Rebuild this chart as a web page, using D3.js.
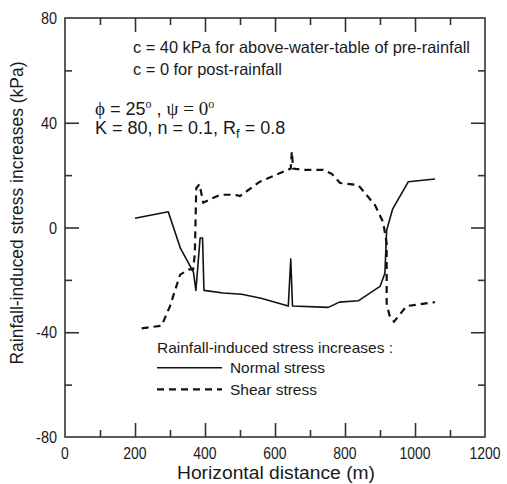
<!DOCTYPE html>
<html>
<head>
<meta charset="utf-8">
<script src="https://cdn.jsdelivr.net/npm/d3@7/dist/d3.min.js"></script>
<style>
html,body{margin:0;padding:0;background:#fff;}
svg{display:block;}
text{font-family:"Liberation Sans Narrow","Arial Narrow","Liberation Sans",Arial,sans-serif;fill:#1a1a1a;}
</style>
</head>
<body>
<script>
// ---- data ----
const xTickValues = [0, 200, 400, 600, 800, 1000, 1200];
const yTickValues = [-80, -40, 0, 40, 80];
const normalX = [200, 295, 330, 367, 374, 386, 393, 397, 452, 505, 560, 638, 645, 650, 752, 784, 838, 900, 914, 919, 936, 981, 1057];
const normalY = [3.5, 6, -8, -17, -24, -4, -4, -24, -25, -25.5, -27, -30, -12, -30, -30.5, -28.5, -28, -22.5, -17.5, -1, 7, 17.5, 18.5];
const shearX = [219, 276, 300, 329, 355, 366, 371, 375, 384, 388, 395, 443, 486, 500, 557, 645, 648, 652, 681, 738, 762, 786, 838, 886, 909, 919, 919, 927, 940, 976, 1005, 1057];
const shearY = [-38.5, -37.5, -30, -18, -16, -16, -10, 15, 16.5, 14, 9.5, 12.5, 12.5, 12, 17.5, 22.5, 29, 22.5, 22, 22, 20.5, 17, 16.2, 8.5, 2, -6, -29, -33.5, -36, -30, -29.5, -28.5];
const annotLines = ["c = 40 kPa for above-water-table of pre-rainfall", "c = 0 for post-rainfall"];
const legendTitle = "Rainfall-induced stress increases :";
const legendLabels = ["Normal stress", "Shear stress"];
const xTitle = "Horizontal distance (m)";
const yTitle = "Rainfall-induced stress increases (kPa)";

const W = 507, H = 484;
const L = 65, R = 485, T = 18, B = 437;
const svg = d3.select("body").append("svg").attr("width", W).attr("height", H);

const x = d3.scaleLinear().domain([0, 1200]).range([L, R]);
const y = d3.scaleLinear().domain([-80, 80]).range([B, T]);

const axisColor = "#333";
const major = 14, minor = 7;

// frame
svg.append("rect").attr("x", L).attr("y", T).attr("width", R - L).attr("height", B - T)
  .attr("fill", "none").attr("stroke", axisColor).attr("stroke-width", 1.6);

function tickSet(axisFn, scale, vals, size, pos) {
  const g = svg.append("g").attr("transform", pos)
    .call(axisFn(scale).tickValues(vals).tickSize(size).tickFormat(""));
  g.select(".domain").remove();
  g.selectAll(".tick line").attr("stroke", axisColor).attr("stroke-width", 1.6);
  return g;
}
const xMinor = d3.range(100, 1200, 200);
const yMinor = [-60, -20, 20, 60];
tickSet(d3.axisTop, x, xTickValues.slice(1, -1), major, `translate(0,${B})`);
tickSet(d3.axisTop, x, xMinor, minor, `translate(0,${B})`);
tickSet(d3.axisBottom, x, xTickValues.slice(1, -1), major, `translate(0,${T})`);
tickSet(d3.axisBottom, x, xMinor, minor, `translate(0,${T})`);
tickSet(d3.axisRight, y, yTickValues.slice(1, -1), major, `translate(${L},0)`);
tickSet(d3.axisRight, y, yMinor, minor, `translate(${L},0)`);
tickSet(d3.axisLeft, y, yTickValues.slice(1, -1), major, `translate(${R},0)`);
tickSet(d3.axisLeft, y, yMinor, minor, `translate(${R},0)`);

// narrow helper: compress text horizontally to ~82%
function narrow(sel, f) {
  sel.each(function () {
    const w = this.getComputedTextLength();
    d3.select(this).attr("textLength", w * f).attr("lengthAdjust", "spacingAndGlyphs");
  });
}

// tick labels
svg.append("g").selectAll("text").data(xTickValues).join("text")
  .attr("x", d => x(d)).attr("y", 459).attr("text-anchor", "middle")
  .attr("font-size", 17).text(d => d).call(narrow, 0.82);
svg.append("g").selectAll("text").data(yTickValues).join("text")
  .attr("x", 57).attr("y", d => y(d)).attr("dy", "0.36em").attr("text-anchor", "end")
  .attr("font-size", 17).text(d => d).call(narrow, 0.85);

// axis titles
svg.append("text").attr("x", 276).attr("y", 479).attr("text-anchor", "middle")
  .attr("font-size", 17.5).attr("textLength", 198).attr("lengthAdjust", "spacingAndGlyphs").text(xTitle);
svg.append("text").attr("transform", "translate(23,213) rotate(-90)").attr("text-anchor", "middle")
  .attr("font-size", 17.5).attr("textLength", 303).attr("lengthAdjust", "spacingAndGlyphs").text(yTitle);

// lines
const line = d3.line().x(d => x(d[0])).y(d => y(d[1]));
const normal = normalX.map((v, i) => [v, normalY[i]]);
const shear = shearX.map((v, i) => [v, shearY[i]]);
svg.append("path").datum(normal).attr("d", line).attr("fill", "none")
  .attr("stroke", "#111").attr("stroke-width", 1.6).attr("stroke-linejoin", "round");
svg.append("path").datum(shear).attr("d", line).attr("fill", "none")
  .attr("stroke", "#111").attr("stroke-width", 2.2).attr("stroke-dasharray", "7,5");

// annotations
const annW = [337, 149];
svg.append("g").selectAll("text").data(annotLines).join("text")
  .attr("x", 133).attr("y", (d, i) => 53 + i * 22).attr("font-size", 16.5)
  .attr("textLength", (d, i) => annW[i]).attr("lengthAdjust", "spacingAndGlyphs").text(d => d);

const serif = "'Liberation Serif','Times New Roman',serif";
const t1 = svg.append("text").attr("x", 95).attr("y", 115).attr("font-size", 18);
t1.append("tspan").attr("font-family", serif).attr("font-size", 19).text("ϕ");
t1.append("tspan").text(" = 25");
t1.append("tspan").attr("font-family", serif).attr("font-size", 12).attr("dy", -7).text("o");
t1.append("tspan").attr("dy", 7).text(" , ");
t1.append("tspan").attr("font-family", serif).attr("font-size", 19).text("ψ");
t1.append("tspan").attr("font-family", serif).attr("font-size", 19).text(" = 0");
t1.append("tspan").attr("font-family", serif).attr("font-size", 12).attr("dy", -7).text("o");

const t2 = svg.append("text").attr("x", 95).attr("y", 133.5).attr("font-size", 18);
t2.append("tspan").text("K = 80, n = 0.1, R");
t2.append("tspan").attr("font-size", 13).attr("dy", 4).text("f");
t2.append("tspan").attr("dy", -4).text(" = 0.8");

// legend
svg.append("text").attr("x", 157).attr("y", 352.7).attr("font-size", 14.5)
  .attr("textLength", 236).attr("lengthAdjust", "spacingAndGlyphs").text(legendTitle);
const legW = [95, 87];
const legY = [367.7, 389.3];
const legDash = [null, "7,5"];
const legSW = [1.6, 2.2];
legendLabels.forEach((lab, i) => {
  svg.append("line").attr("x1", 157).attr("x2", 222).attr("y1", legY[i]).attr("y2", legY[i])
    .attr("stroke", "#111").attr("stroke-width", legSW[i]).attr("stroke-dasharray", legDash[i]);
  svg.append("text").attr("x", 230).attr("y", legY[i] + 5.5).attr("font-size", 14.5)
    .attr("textLength", legW[i]).attr("lengthAdjust", "spacingAndGlyphs").text(lab);
});
</script>
</body>
</html>
